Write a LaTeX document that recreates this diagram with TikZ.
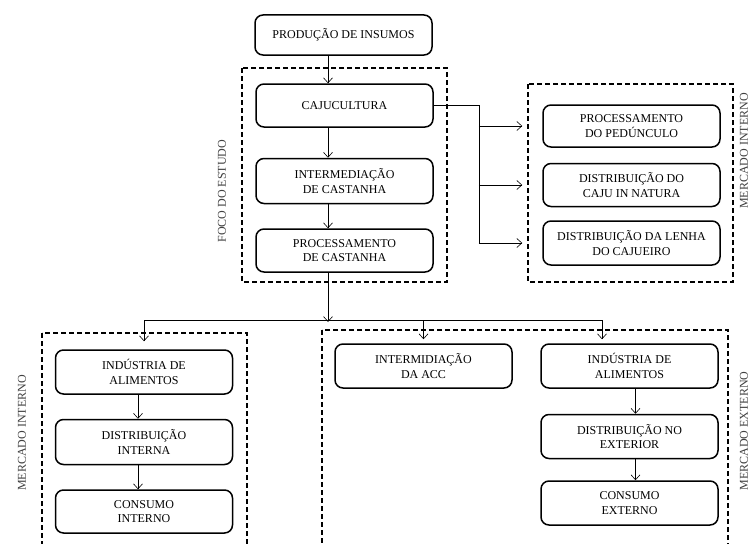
\documentclass[tikz,border=0pt]{standalone}
\usepackage{fontspec}
\setmainfont{Liberation Serif}
\usepackage{tikz}
\usetikzlibrary{arrows.meta,positioning}

\begin{document}
\begin{tikzpicture}[
    x=1pt, y=-1pt,
    box/.style={rectangle, draw, rounded corners=8pt, line width=1.5pt, minimum width=177pt, minimum height=43pt, align=center, inner sep=2pt, font=\fontsize{12}{14.5}\selectfont},
    frame/.style={draw, line width=1.6pt, dash pattern=on 5pt off 3pt},
    tag/.style={rotate=90, text=black!75, font=\fontsize{12}{14}\selectfont},
    flow/.style={-{Straight Barb[length=5pt,width=9pt]}, line width=0.6pt}
]
    \clip (0,0) rectangle (751,543);

    % Cadeia principal
    \node[box, minimum height=40pt] (insumos) at (343.5,35) {PRODUÇÃO DE INSUMOS};
    \node[box] (caju) at (344.5,105.5) {CAJUCULTURA};
    \node[box, minimum height=45pt, below=30pt of caju] (inter) {INTERMEDIAÇÃO\\DE CASTANHA};
    \node[box, below=24pt of inter] (proc) {PROCESSAMENTO\\DE CASTANHA};

    % Foco do estudo
    \draw[frame] (242,68) rectangle (447,282);
    \node[tag] (foco) at (222,191) {FOCO DO ESTUDO};

    % Mercado interno (caju)
    \draw[frame] (528,84) rectangle (733,282);
    \node[box, minimum height=42pt] (ped) at (631.5,126) {PROCESSAMENTO\\DO PEDÚNCULO};
    \node[box, below=15pt of ped] (natura) {DISTRIBUIÇÃO DO\\CAJU IN NATURA};
    \node[box, minimum height=44pt, below=13pt of natura] (lenha) {DISTRIBUIÇÃO DA LENHA\\DO CAJUEIRO};
    \node[tag] (intA) at (744,151) {MERCADO INTERNO};

    % Mercado interno (castanha)
    \draw[frame] (42,333) rectangle (247,560);
    \node[box, minimum height=44pt] (ind1) at (144,372) {INDÚSTRIA DE\\ALIMENTOS};
    \node[box, minimum height=45pt, below=24pt of ind1] (dist1) {DISTRIBUIÇÃO\\INTERNA};
    \node[box, below=24pt of dist1] (cons1) {CONSUMO\\INTERNO};
    \node[tag] (intB) at (22,433) {MERCADO INTERNO};

    % Mercado externo
    \draw[frame] (322,330) rectangle (728,560);
    \node[box, minimum height=44pt] (acc) at (423.5,366) {INTERMIDIAÇÃO\\DA ACC};
    \node[box, minimum height=44pt] (ind2) at (629.5,366) {INDÚSTRIA DE\\ALIMENTOS};
    \node[box, minimum height=44pt, below=25pt of ind2] (dist2) {DISTRIBUIÇÃO NO\\EXTERIOR};
    \node[box, minimum height=44pt, below=21pt of dist2] (cons2) {CONSUMO\\EXTERNO};
    \node[tag] (ext) at (744,431) {MERCADO EXTERNO};

    % Ligacoes
    \coordinate (spine) at (328,0);
    \coordinate (bus) at (0,320);
    \coordinate (tap) at (602,0);
    \draw[flow] (insumos.south -| spine) -- (caju.north -| spine);
    \draw[flow] (caju.south -| spine) -- (inter.north -| spine);
    \draw[flow] (inter.south -| spine) -- (proc.north -| spine);
    \draw[flow] (proc.south -| spine) -- ([yshift=-2pt]bus -| spine);

    \draw (caju.east) -- ++(45,0) coordinate (fork) -- (fork |- lenha);
    \foreach \n in {ped, natura, lenha}
        \draw[flow, shorten >=20pt] (fork |- \n) -- (\n.west);

    \draw (bus -| ind1) -- (bus -| tap);
    \draw[flow, shorten >=8pt] (bus -| ind1) -- (ind1.north);
    \draw[flow, shorten >=4pt] (bus -| acc) -- (acc.north);
    \draw[flow, shorten >=4pt] (bus -| tap) -- (ind2.north -| tap);

    \draw[flow] ([xshift=-6pt]ind1.south) -- ([xshift=-6pt]dist1.north);
    \draw[flow] ([xshift=-6pt]dist1.south) -- ([xshift=-6pt]cons1.north);
    \draw[flow] ([xshift=6pt]ind2.south) -- ([xshift=6pt]dist2.north);
    \draw[flow] ([xshift=6pt]dist2.south) -- ([xshift=6pt]cons2.north);
\end{tikzpicture}
\end{document}
